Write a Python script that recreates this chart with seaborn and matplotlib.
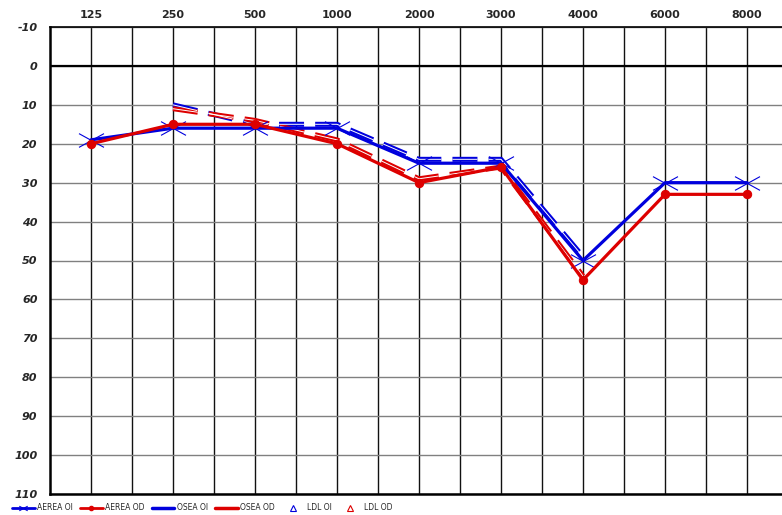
import matplotlib
matplotlib.use("Agg")
import matplotlib.pyplot as plt
from matplotlib.lines import Line2D
from matplotlib.path import Path
import seaborn as sns
import pandas as pd

# Audiogram data (dB HL per test frequency)
freq_labels = ["125", "250", "500", "1000", "2000", "3000", "4000", "6000", "8000"]
aerea_oi = [19, 16, 16, 16, 25, 25, 50, 30, 30]
aerea_od = [20, 15, 15, 20, 30, 26, 55, 33, 33]
osea_freqs = ["250", "500", "1000", "2000", "3000", "4000"]
osea_oi = [10, 15, 15, 24, 24, 49]
osea_od = [11, 14, 19, 29, 26, 54]
db_ticks = list(range(-10, 111, 10))

BLUE = "#0000dd"
RED = "#dd0000"

sns.set_theme(style="white")
plt.rcParams["font.family"] = ["DejaVu Sans"]
plt.rcParams["lines.scale_dashes"] = False

# flattened cross used for the left-ear air conduction symbol
wide_x = Path([(-1, -0.55), (1, 0.55), (-1, 0.55), (1, -0.55)],
              [Path.MOVETO, Path.LINETO, Path.MOVETO, Path.LINETO])

# each frequency occupies two grid columns
pos = {f: 1 + 2 * i for i, f in enumerate(freq_labels)}

df_air = pd.DataFrame({"x": [pos[f] for f in freq_labels], "oi": aerea_oi, "od": aerea_od})
df_bone = pd.DataFrame({"x": [pos[f] for f in osea_freqs], "oi": osea_oi, "od": osea_od})

fig = plt.figure(figsize=(7.82, 5.15), dpi=100)
ax = fig.add_axes([50 / 782, 1 - 494 / 515, 732 / 782, 467 / 515])

dash = (0, (18, 8))
# bone conduction: dashed double strokes
for col, c in (("oi", BLUE), ("od", RED)):
    sns.lineplot(data=df_bone, x="x", y=col, ax=ax, color=c, linewidth=3.6,
                 linestyle=dash, zorder=3)
    sns.lineplot(data=df_bone, x="x", y=col, ax=ax, color="white", linewidth=0.7,
                 linestyle=dash, zorder=3.1)

# air conduction
sns.lineplot(data=df_air, x="x", y="oi", ax=ax, color=BLUE, linewidth=2.3,
             marker=wide_x, markersize=18, markeredgewidth=0.8, markeredgecolor=BLUE,
             markerfacecolor="none", zorder=4)
sns.lineplot(data=df_air, x="x", y="od", ax=ax, color=RED, linewidth=2.3,
             marker="o", markersize=6, markeredgecolor=RED, markerfacecolor=RED, zorder=5)

ax.set_xlim(0, 732 / 41)
ax.set_ylim(110, -10)

ax.set_xticks([pos[f] for f in freq_labels])
ax.set_xticklabels(freq_labels, fontsize=8, fontweight="bold")
ax.set_xticks([p + 1 for p in list(pos.values())[:-1]], minor=True)
ax.xaxis.tick_top()
ax.tick_params(axis="x", which="both", length=0, pad=5)

ax.set_yticks(db_ticks)
ax.set_yticklabels([str(v) for v in db_ticks], fontsize=8, fontweight="bold", fontstyle="italic")
ax.tick_params(axis="y", length=0, pad=9)

ax.grid(True, axis="x", which="both", color="#111111", linewidth=1.0)
ax.grid(True, axis="y", which="major", color="#808080", linewidth=1.0)
ax.axhline(0, color="black", linewidth=1.6, zorder=2)
ax.set_axisbelow(True)

ax.set_xlabel("")
ax.set_ylabel("")
for side in ("left", "bottom", "top"):
    ax.spines[side].set_visible(True)
    ax.spines[side].set_color("black")
ax.spines["left"].set_linewidth(1.8)
ax.spines["bottom"].set_linewidth(1.8)
ax.spines["top"].set_linewidth(1.2)
ax.spines["right"].set_visible(False)

handles = [
    Line2D([], [], color=BLUE, lw=2, marker=wide_x, markersize=6, mew=0.8, mfc="none"),
    Line2D([], [], color=RED, lw=2, marker="o", markersize=3),
    Line2D([], [], color=BLUE, lw=2.5),
    Line2D([], [], color=RED, lw=2.5),
    Line2D([], [], color=BLUE, lw=0, marker="^", markersize=5, mfc="none", mew=0.8),
    Line2D([], [], color=RED, lw=0, marker="^", markersize=5, mfc="none", mew=0.8),
]
labels = ["AEREA OI", "AEREA OD", "OSEA OI", "OSEA OD", "LDL OI", "LDL OD"]
fig.legend(handles, labels, loc="center left", bbox_to_anchor=(12 / 782, 7 / 515),
           ncol=6, frameon=False, fontsize=5.5, handlelength=3.0, handletextpad=0.3,
           columnspacing=0.9, borderpad=0, borderaxespad=0)

fig.savefig("out.png", dpi=100)
